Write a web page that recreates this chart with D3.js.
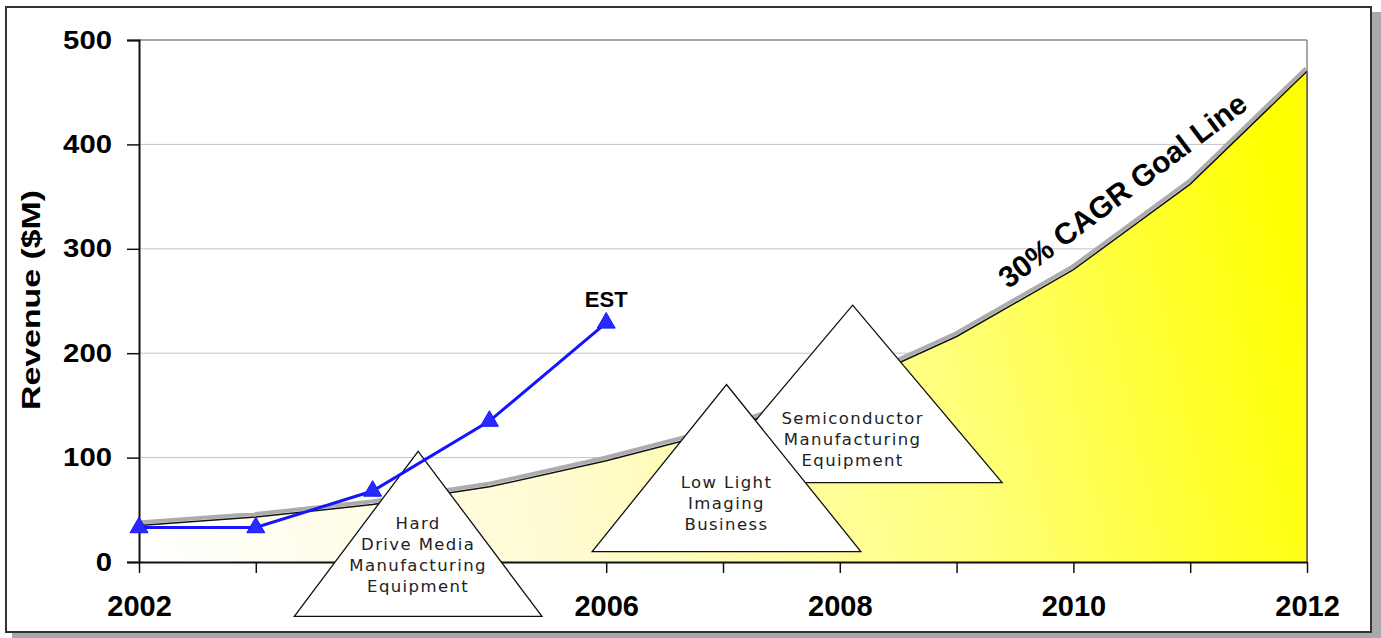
<!DOCTYPE html>
<html>
<head>
<meta charset="utf-8">
<script src="https://cdn.jsdelivr.net/npm/d3@7"></script>
<style>
  body { margin: 0; background: #fff; }
</style>
</head>
<body>
<div id="chart"></div>
<script>
// goal line (30% CAGR) and actual revenue, $M
const years = [2002, 2003, 2004, 2005, 2006, 2007, 2008, 2009, 2010, 2011, 2012];
const goalValues = [35, 43, 55, 72, 97, 126, 165, 216, 280, 362, 470];
const actualYears = [2002, 2003, 2004, 2005, 2006];
const actualValues = [33, 33, 68, 135, 229];
const yTicks = [0, 100, 200, 300, 400, 500];
// 2004 sits behind the hard drive triangle, so no label there
const xLabelYears = [2002, 2006, 2008, 2010, 2012];

// opportunity triangles (apex year/value, base value, half width in years)
const oppLines = [
  ["Hard", "Drive Media", "Manufacturing", "Equipment"],
  ["Low Light", "Imaging", "Business"],
  ["Semiconductor", "Manufacturing", "Equipment"]
];
const oppApexYear = [2004.39, 2007.03, 2008.11];
const oppApexValue = [106, 170, 246];
const oppBaseValue = [-52, 10, 76];
const oppHalfWidth = [1.06, 1.15, 1.28];
const oppTextValue = [7, 56, 117];

const W = 1381, H = 638;
const margin = {top: 40, right: 74, bottom: 76, left: 139};
const width = W - margin.left - margin.right;
const height = H - margin.top - margin.bottom;

const svg = d3.select("#chart").append("svg")
  .attr("width", W)
  .attr("height", H)
  .style("font-family", "'Liberation Sans', Arial, sans-serif");

// frame + drop shadow
svg.append("rect").attr("x", 12).attr("y", 12).attr("width", 1369).attr("height", 626).attr("fill", "#a9a9a9");
svg.append("rect").attr("x", 6).attr("y", 7).attr("width", 1365).attr("height", 625)
  .attr("fill", "#fff").attr("stroke", "#333").attr("stroke-width", 2);

const x = d3.scaleLinear([2002, 2012], [0, width]);
const y = d3.scaleLinear([0, 500], [height, 0]);

const defs = svg.append("defs");
const grad = defs.append("linearGradient")
  .attr("id", "goalFill")
  .attr("gradientUnits", "userSpaceOnUse")
  .attr("x1", x(2002)).attr("y1", y(0))
  .attr("x2", x(2012)).attr("y2", y(250));
grad.append("stop").attr("offset", 0).attr("stop-color", "#ffffff");
grad.append("stop").attr("offset", 0.35).attr("stop-color", "#fffbd2");
grad.append("stop").attr("offset", 0.7).attr("stop-color", "#ffff78");
grad.append("stop").attr("offset", 1).attr("stop-color", "#ffff00");

const g = svg.append("g").attr("transform", `translate(${margin.left},${margin.top})`);

// gridlines
g.append("g")
  .selectAll("line")
  .data(yTicks.filter(d => d > 0))
  .join("line")
  .attr("x1", 0).attr("x2", width)
  .attr("y1", d => y(d)).attr("y2", d => y(d))
  .attr("stroke", d => d === 500 ? "#8a8a8a" : "#c4c4c4")
  .attr("stroke-width", d => d === 500 ? 1.5 : 1);
g.append("line")
  .attr("x1", width).attr("x2", width).attr("y1", 0).attr("y2", height)
  .attr("stroke", "#8a8a8a").attr("stroke-width", 1.5);

// goal area
const goal = years.map((d, i) => [d, goalValues[i]]);
const area = d3.area().x(d => x(d[0])).y0(y(0)).y1(d => y(d[1]));
const line = d3.line().x(d => x(d[0])).y(d => y(d[1]));

g.append("path").attr("d", area(goal)).attr("fill", "url(#goalFill)");
g.append("path").attr("d", line(goal))
  .attr("transform", "translate(-1,-3)")
  .attr("fill", "none").attr("stroke", "#acacac").attr("stroke-width", 4);
g.append("path").attr("d", line(goal))
  .attr("fill", "none").attr("stroke", "#111").attr("stroke-width", 1.5);
g.append("line")
  .attr("x1", width).attr("x2", width).attr("y1", y(goalValues[goalValues.length - 1])).attr("y2", height)
  .attr("stroke", "#555").attr("stroke-width", 1.5);

// axes
const yAxis = g.append("g")
  .call(d3.axisLeft(y).tickValues(yTicks).tickSize(12).tickPadding(15).tickFormat(d3.format("d")));
yAxis.select(".domain").attr("stroke", "#111").attr("stroke-width", 2);
yAxis.selectAll(".tick line").attr("stroke", "#111").attr("stroke-width", 1.5);
yAxis.selectAll(".tick text")
  .attr("font-family", "'Liberation Sans', Arial, sans-serif")
  .attr("font-size", 25).attr("font-weight", "bold").attr("fill", "#000")
  .attr("textLength", d => String(d).length * 16.3)
  .attr("lengthAdjust", "spacingAndGlyphs");

const xAxis = g.append("g")
  .attr("transform", `translate(0,${height})`)
  .call(d3.axisBottom(x).tickValues(years).tickSize(11).tickSizeOuter(0)
    .tickFormat(d => xLabelYears.includes(d) ? d : ""));
xAxis.select(".domain").attr("stroke", "#111").attr("stroke-width", 2);
xAxis.selectAll(".tick line").attr("stroke", "#111").attr("stroke-width", 1.5);
xAxis.selectAll(".tick text")
  .attr("font-family", "'Liberation Sans', Arial, sans-serif")
  .attr("font-size", 29).attr("font-weight", "bold").attr("fill", "#000")
  .attr("y", 33);

// opportunity triangles, back to front
const oppOrder = [2, 1, 0];
const oppG = g.selectAll(".oppG")
  .data(oppOrder)
  .join("g")
  .attr("class", "oppG");
oppG.append("path")
  .attr("d", i => {
    const ax = x(oppApexYear[i]), ay = y(oppApexValue[i]);
    const by = y(oppBaseValue[i]);
    const l = x(oppApexYear[i] - oppHalfWidth[i]), r = x(oppApexYear[i] + oppHalfWidth[i]);
    return `M${ax},${ay}L${r},${by}L${l},${by}Z`;
  })
  .attr("fill", "#fff").attr("stroke", "#111").attr("stroke-width", 1.3);
oppG.each(function(i) {
  const lines = oppLines[i];
  const lh = 21;
  const cy = y(oppTextValue[i]);
  d3.select(this).selectAll("text")
    .data(lines)
    .join("text")
    .attr("x", x(oppApexYear[i]))
    .attr("y", (d, k) => cy + (k - (lines.length - 1) / 2) * lh)
    .attr("text-anchor", "middle")
    .attr("dominant-baseline", "central")
    .attr("font-family", "'DejaVu Sans', Verdana, sans-serif")
    .attr("font-size", 16.5)
    .attr("letter-spacing", 1.4)
    .attr("fill", "#222")
    .text(d => d);
});

// actual revenue
const actual = actualYears.map((d, i) => [d, actualValues[i]]);
g.append("path").attr("d", line(actual))
  .attr("fill", "none").attr("stroke", "#1414ff").attr("stroke-width", 3);
g.selectAll(".marker")
  .data(actual)
  .join("path")
  .attr("class", "marker")
  .attr("d", d3.symbol(d3.symbolTriangle, 140))
  .attr("transform", d => `translate(${x(d[0])},${y(d[1])})`)
  .attr("fill", "#2a2aff").attr("stroke", "#1414ff").attr("stroke-width", 1);
g.append("text")
  .attr("x", x(actualYears[actualYears.length - 1]))
  .attr("y", y(actualValues[actualValues.length - 1]) - 23)
  .attr("text-anchor", "middle")
  .attr("dominant-baseline", "central")
  .attr("font-size", 22).attr("font-weight", "bold")
  .text("EST");

// goal label along the curve
g.append("text")
  .attr("transform", `translate(${x(2010.42)},${y(356)}) rotate(-37)`)
  .attr("text-anchor", "middle")
  .attr("dominant-baseline", "central")
  .attr("font-size", 30).attr("font-weight", "bold")
  .text("30% CAGR Goal Line");

// y axis title
svg.append("text")
  .attr("transform", "translate(31,300) rotate(-90)")
  .attr("text-anchor", "middle")
  .attr("dominant-baseline", "central")
  .attr("font-size", 25).attr("font-weight", "bold")
  .attr("textLength", 220).attr("lengthAdjust", "spacingAndGlyphs")
  .text("Revenue ($M)");
</script>
</body>
</html>
